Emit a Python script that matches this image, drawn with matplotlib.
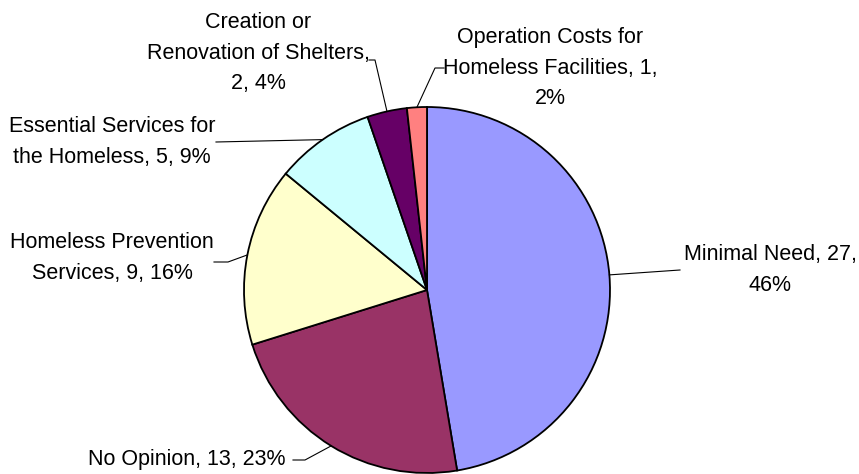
import numpy as np
import matplotlib.pyplot as plt

labels = ["Minimal Need", "No Opinion", "Homeless Prevention Services",
          "Essential Services for the Homeless", "Creation or Renovation of Shelters",
          "Operation Costs for Homeless Facilities"]
values = [27, 13, 9, 5, 2, 1]
percents = [46, 23, 16, 9, 4, 2]
label_texts = ["Minimal Need, 27,\n46%",
               "No Opinion, 13, 23%",
               "Homeless Prevention\nServices, 9, 16%",
               "Essential Services for\nthe Homeless, 5, 9%",
               "Creation or\nRenovation of Shelters,\n2, 4%",
               "Operation Costs for\nHomeless Facilities, 1,\n2%"]
colors = ["#9999FF", "#993366", "#FFFFCC", "#CCFFFF", "#660066", "#FF8080"]

plt.rcParams['font.family'] = ['Liberation Sans Narrow', 'Liberation Sans', 'DejaVu Sans']

W, H = 859, 474
fig = plt.figure(figsize=(W / 100, H / 100), dpi=100)
ax = fig.add_axes([0, 0, 1, 1])

cx, cy, r = 427, H - 290, 183
wedges, _ = ax.pie(values, colors=colors, startangle=90, counterclock=False,
                   center=(cx, cy), radius=r, frame=True,
                   wedgeprops=dict(edgecolor='black', linewidth=1.3))
ax.set_xlim(0, W)
ax.set_ylim(0, H)
ax.set_aspect('equal')
ax.axis('off')

# label layout: text anchor (x, y from top), alignment, leader knee (x, y from top)
layout = [
    dict(pos=(770, 270), ha='center', knee=[(680, 270)]),
    dict(pos=(286, 460), ha='right', knee=[(293, 460), (305, 460)]),
    dict(pos=(112, 258), ha='center', knee=[(214, 262), (228, 262)]),
    dict(pos=(112, 142), ha='center', knee=[(216, 142)]),
    dict(pos=(258, 53), ha='center', knee=[(369, 60), (375, 60)]),
    dict(pos=(550, 68), ha='center', knee=[(444, 68), (435, 68)]),
]

for w, txt, lay in zip(wedges, label_texts, layout):
    mid = np.deg2rad((w.theta1 + w.theta2) / 2)
    ex, ey = cx + r * np.cos(mid), cy + r * np.sin(mid)
    pts = [(ex, ey)] + [(kx, H - ky) for kx, ky in reversed(lay['knee'])]
    xs, ys = zip(*pts)
    ax.plot(xs, ys, color='black', linewidth=0.8)
    ax.text(lay['pos'][0], H - lay['pos'][1], txt, ha=lay['ha'], va='center',
            multialignment='center', fontsize=15.5, linespacing=1.6, color='black')

plt.savefig("out.png", dpi=100)
